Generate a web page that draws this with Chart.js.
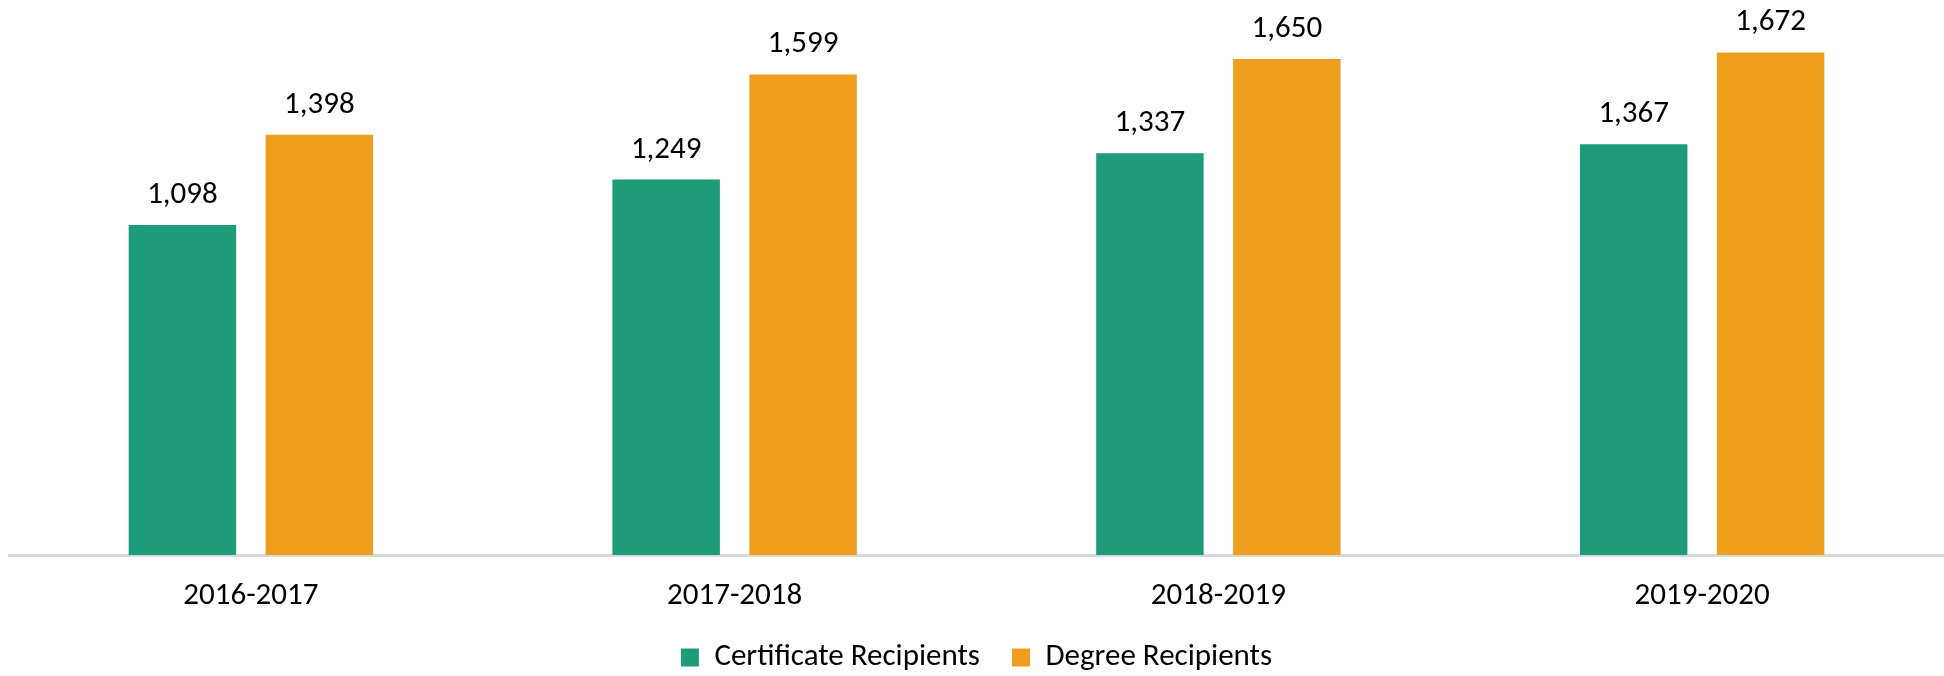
<!DOCTYPE html>
<html>
<head>
<meta charset="utf-8">
<script src="https://cdn.jsdelivr.net/npm/chart.js@4"></script>
<style>
  html, body { margin: 0; padding: 0; background: #fff; }
</style>
</head>
<body>
<canvas id="myChart" width="1944" height="676"></canvas>
<script>
const years = ['2016-2017', '2017-2018', '2018-2019', '2019-2020'];
const certificateRecipients = [1098, 1249, 1337, 1367];
const degreeRecipients = [1398, 1599, 1650, 1672];

const FONT = "Carlito, Lato, 'Liberation Sans', sans-serif";

// draws the number above each bar
const valueLabels = {
    id: 'valueLabels',
    afterDatasetsDraw(chart) {
        const ctx = chart.ctx;
        ctx.save();
        ctx.font = '31px ' + FONT;
        ctx.fillStyle = '#000';
        ctx.textAlign = 'center';
        ctx.textBaseline = 'alphabetic';
        chart.data.datasets.forEach((ds, i) => {
            chart.getDatasetMeta(i).data.forEach((bar, j) => {
                ctx.fillText(ds.data[j].toLocaleString('en-US'), bar.x, bar.y - 22);
            });
        });
        ctx.restore();
    }
};

const chart = new Chart(document.getElementById('myChart'), {
    type: 'bar',
    data: {
        labels: years,
        datasets: [
            {
                label: 'Certificate Recipients',
                data: certificateRecipients,
                backgroundColor: '#1e9b7b'
            },
            {
                label: 'Degree Recipients',
                data: degreeRecipients,
                backgroundColor: '#f09e1d'
            }
        ]
    },
    options: {
        responsive: false,
        animation: false,
        categoryPercentage: 0.566,
        barPercentage: 0.785,
        layout: {
            padding: { top: 14, left: 9, right: 0, bottom: 0 }
        },
        scales: {
            x: {
                grid: { display: false, drawTicks: false },
                border: { display: true, color: '#d9d9d9', width: 3 },
                ticks: {
                    color: '#000',
                    padding: 23,
                    font: { family: FONT, size: 31 }
                },
                afterFit: (scale) => { scale.height = 55; }
            },
            y: {
                display: false,
                min: 0,
                max: 1800
            }
        },
        plugins: {
            legend: {
                position: 'bottom',
                maxHeight: 66,
                labels: {
                    color: '#000',
                    boxWidth: 18,
                    boxHeight: 18,
                    padding: 32,
                    font: { family: FONT, size: 31 }
                }
            },
            tooltip: { enabled: false }
        }
    },
    plugins: [valueLabels]
});
</script>
</body>
</html>
